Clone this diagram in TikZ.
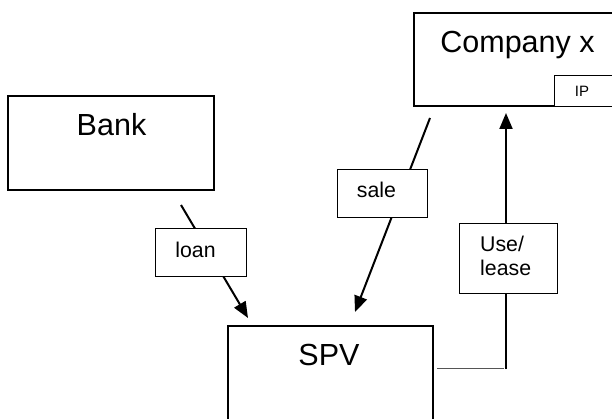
\documentclass[tikz,border=0pt]{standalone}
\usepackage{fontspec}
\setmainfont{Liberation Sans}
\usetikzlibrary{arrows.meta}
\definecolor{linkgray}{HTML}{555555}
\begin{document}
\begin{tikzpicture}[x=1pt,y=-1pt,
  bigbox/.style={draw, line width=2pt, inner sep=0pt},
  tagbox/.style={draw, line width=0.9pt, fill=white, inner sep=0pt},
  flow/.style={line width=2pt, -{Triangle[length=16pt,width=13pt]}},
  bigtext/.style={font=\fontsize{30.5}{35}\selectfont, anchor=base, inner sep=0pt},
  tagtext/.style={font=\fontsize{21.3}{24}\selectfont, inner sep=0pt}]
\useasboundingbox (0,0) rectangle (612,419);
\clip (0,0) rectangle (612,419);
% main boxes
\node[bigbox, minimum width=204pt, minimum height=93pt] (company) at (516,59.5) {};
\node[tagbox, minimum width=64pt, minimum height=31pt] (ipbox) at (586,90.5) {};
\node[bigbox, minimum width=206pt, minimum height=94pt] (bank) at (111,143) {};
\node[bigbox, minimum width=205pt, minimum height=114pt] (spv) at (330.5,383) {};
% connector end points
\coordinate (loanfrom) at (181,205);
\coordinate (loanto) at (248,318);
\coordinate (salefrom) at (430,118);
\coordinate (saleto) at (355,312);
\coordinate (usefrom) at (437,368);
\coordinate (usecorner) at (504,368);
\coordinate (usestart) at (506,369);
\coordinate (useto) at (506,113);
% connectors
\draw[flow] (loanfrom) -- (loanto);
\draw[flow] (salefrom) -- (saleto);
\draw[linkgray, line width=1pt] (usefrom) -- (usecorner);
\draw[flow] (usestart) -- (useto);
% tag boxes
\node[tagbox, minimum width=91pt, minimum height=48pt] (loanbox) at (200.5,252) {};
\node[tagbox, minimum width=90pt, minimum height=48pt] (salebox) at (382,193) {};
\node[tagbox, minimum width=98pt, minimum height=70pt] (usebox) at (508,258) {};
% texts
\node[bigtext] (companytext) at (517.5,53) {Company x};
\node[bigtext] (banktext) at (111.5,136) {Bank};
\node[bigtext] (spvtext) at (329,365) {SPV};
\node[font=\fontsize{15}{17}\selectfont, anchor=base, inner sep=0pt] (iptext) at (582,96.7) {IP};
\node[tagtext, anchor=base] (loantext) at (195.5,258) {loan};
\node[tagtext, anchor=base] (saletext) at (376.5,198) {sale};
\node[tagtext, anchor=north west, align=left] (usetext) at (480,236) {Use/\\lease};
\end{tikzpicture}
\end{document}
